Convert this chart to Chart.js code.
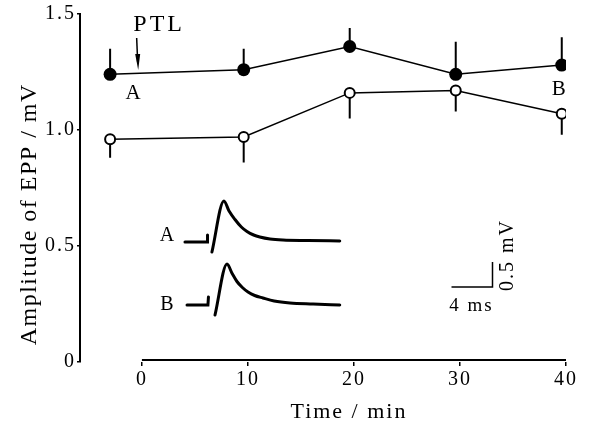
<!DOCTYPE html>
<html>
<head>
<meta charset="utf-8">
<script src="https://cdn.jsdelivr.net/npm/chart.js@4.4.1/dist/chart.umd.min.js"></script>
<style>
  body { margin: 0; background: #fff; }
  #wrap { width: 594px; height: 425px; }
</style>
</head>
<body>
<div id="wrap"><canvas id="chart"></canvas></div>
<script>
// time after PTL (min)
var times = [-3, 9.6, 19.6, 29.6, 39.6];
// filled circles
var ampFilled = [1.24, 1.26, 1.36, 1.24, 1.28];
var errFilled = [0.11, 0.09, 0.08, 0.14, 0.12];
// open circles
var ampOpen = [0.96, 0.97, 1.16, 1.17, 1.07];
var errOpen = [0.08, 0.11, 0.11, 0.09, 0.09];

var xTicks = [0, 10, 20, 30, 40];
var yTicks = [0, 0.5, 1.0, 1.5];
var yTickLabels = ["0", "0.5", "1.0", "1.5"];
var ptlTime = -0.4;

// inset EPP traces (ms, mV)
var artATime = [0, 2.15, 2.2];
var artAVolt = [0, 0, 0.14];
var eppATime = [2.63, 3.8, 4.3, 4.88, 5.5, 6.05, 6.7, 7.3, 8.3, 9.56, 12, 15.1];
var eppAVolt = [-0.2, 0.82, 0.62, 0.45, 0.3, 0.21, 0.14, 0.1, 0.06, 0.04, 0.03, 0.02];
var artBTime = [0.2, 2.24, 2.29];
var artBVolt = [0, 0, 0.16];
var eppBTime = [2.93, 4.1, 4.6, 5.07, 5.6, 6.15, 6.8, 7.6, 8.7, 10.24, 12.5, 15.1];
var eppBVolt = [-0.2, 0.82, 0.63, 0.47, 0.35, 0.26, 0.19, 0.14, 0.08, 0.04, 0.02, 0];
// scale bar 4 ms / 0.5 mV
var barTime = [26, 30, 30];
var barVolt = [-0.9, -0.9, -0.4];

var serif = '"Liberation Serif", "DejaVu Serif", serif';

function pts(xs, ys) {
    return xs.map(function (v, i) { return { x: v, y: ys[i] }; });
}

function trace(xs, ys, yId, monotone) {
    return {
        data: pts(xs, ys),
        xAxisID: "xIns",
        yAxisID: yId,
        borderColor: "#000",
        borderWidth: 3,
        pointRadius: 0,
        cubicInterpolationMode: monotone ? "monotone" : "default",
        borderCapStyle: "round"
    };
}

function spaced(ctx, text, x, y, size, spacing) {
    ctx.font = size + "px " + serif;
    ctx.letterSpacing = spacing + "px";
    ctx.fillText(text, x + spacing / 2, y);
}

var overlay = {
    id: "overlay",
    beforeDraw: function (chart) {
        chart.ctx.letterSpacing = "2px";
    },
    beforeDatasetsDraw: function (chart) {
        var ctx = chart.ctx, x = chart.scales.x, y = chart.scales.y;
        var area = chart.chartArea;
        ctx.save();
        ctx.strokeStyle = "#000";
        ctx.lineWidth = 2;
        // x axis line only spans 0..40
        ctx.beginPath();
        ctx.moveTo(x.getPixelForValue(xTicks[0]), area.bottom - 2);
        ctx.lineTo(x.getPixelForValue(xTicks[xTicks.length - 1]), area.bottom - 2);
        ctx.stroke();
        // error bars: filled up, open down
        times.forEach(function (t, i) {
            var px = x.getPixelForValue(t);
            ctx.beginPath();
            ctx.moveTo(px, y.getPixelForValue(ampFilled[i]));
            ctx.lineTo(px, y.getPixelForValue(ampFilled[i] + errFilled[i]));
            ctx.moveTo(px, y.getPixelForValue(ampOpen[i]));
            ctx.lineTo(px, y.getPixelForValue(ampOpen[i] - errOpen[i]));
            ctx.stroke();
        });
        ctx.restore();
    },
    afterDraw: function (chart) {
        var ctx = chart.ctx, x = chart.scales.x, y = chart.scales.y;
        var xi = chart.scales.xIns, ya = chart.scales.yA, yb = chart.scales.yB;
        var area = chart.chartArea;
        ctx.save();
        ctx.fillStyle = "#000";
        ctx.strokeStyle = "#000";
        ctx.textAlign = "center";
        ctx.textBaseline = "middle";

        // axis titles
        var x0 = x.getPixelForValue(xTicks[0]), x1 = x.getPixelForValue(xTicks[xTicks.length - 1]);
        spaced(ctx, "Time / min", (x0 + x1) / 2 - 6, area.bottom + 50, 22, 2);
        ctx.save();
        ctx.translate(area.left - 50, (area.top + area.bottom) / 2 + 27);
        ctx.rotate(-Math.PI / 2);
        spaced(ctx, "Amplitude of EPP / mV", 0, 0, 24, 1.5);
        ctx.restore();

        // PTL arrow
        var ax = x.getPixelForValue(ptlTime);
        spaced(ctx, "PTL", ax + 20, area.top + 11, 24, 3);
        ctx.lineWidth = 1.5;
        ctx.beginPath();
        ctx.moveTo(ax - 1, area.top + 24);
        ctx.lineTo(ax, area.top + 48);
        ctx.stroke();
        ctx.beginPath();
        ctx.moveTo(ax - 2.5, area.top + 40);
        ctx.lineTo(ax + 2.5, area.top + 40);
        ctx.lineTo(ax + 0.5, area.top + 56);
        ctx.closePath();
        ctx.fill();

        // A / B markers on the plot
        spaced(ctx, "A", x.getPixelForValue(times[0]) + 23, y.getPixelForValue(ampFilled[0]) + 19, 21, 0);
        var last = times.length - 1;
        spaced(ctx, "B", x.getPixelForValue(times[last]) - 3, y.getPixelForValue(ampFilled[last]) + 24, 21, 0);

        // inset labels
        spaced(ctx, "A", xi.getPixelForValue(artATime[0]) - 18, ya.getPixelForValue(0) - 6, 20, 0);
        spaced(ctx, "B", xi.getPixelForValue(artBTime[0]) - 20, yb.getPixelForValue(0), 20, 0);

        // scale bar labels
        var bx = xi.getPixelForValue(barTime[1]), by = ya.getPixelForValue(barVolt[1]);
        spaced(ctx, "4 ms", bx - 22, by + 19, 19, 2);
        ctx.translate(bx + 15, by - 31);
        ctx.rotate(-Math.PI / 2);
        spaced(ctx, "0.5 mV", 0, 0, 20, 2);
        ctx.restore();
    }
};

var ctx = document.getElementById("chart");

new Chart(ctx, {
    type: "line",
    data: {
        datasets: [
            {
                data: pts(times, ampFilled),
                borderColor: "#000",
                borderWidth: 1.5,
                pointRadius: 6.5,
                pointBackgroundColor: "#000",
                pointBorderColor: "#000",
                pointBorderWidth: 0
            },
            {
                data: pts(times, ampOpen),
                borderColor: "#000",
                borderWidth: 1.5,
                pointRadius: 5,
                pointBackgroundColor: "#fff",
                pointBorderColor: "#000",
                pointBorderWidth: 2
            },
            trace(artATime, artAVolt, "yA", false),
            trace(eppATime, eppAVolt, "yA", true),
            trace(artBTime, artBVolt, "yB", false),
            trace(eppBTime, eppBVolt, "yB", true),
            {
                data: pts(barTime, barVolt),
                xAxisID: "xIns",
                yAxisID: "yA",
                borderColor: "#000",
                borderWidth: 1.5,
                pointRadius: 0
            }
        ]
    },
    options: {
        responsive: true,
        maintainAspectRatio: false,
        animation: false,
        layout: { padding: { top: 14, right: 28, left: 0, bottom: 0 } },
        plugins: {
            legend: { display: false },
            tooltip: { enabled: false }
        },
        scales: {
            x: {
                type: "linear",
                min: -5.84,
                max: 40,
                afterBuildTicks: function (scale) {
                    scale.ticks = xTicks.map(function (v) { return { value: v }; });
                },
                afterFit: function (scale) { scale.height = 63; },
                border: { display: false },
                grid: { display: true, drawOnChartArea: false, color: "#000", lineWidth: 1.5, tickLength: 4 },
                ticks: {
                    color: "#000",
                    padding: 2,
                    maxRotation: 0,
                    font: { family: serif, size: 20 }
                }
            },
            y: {
                type: "linear",
                min: 0,
                max: 1.5,
                afterBuildTicks: function (scale) {
                    scale.ticks = yTicks.map(function (v) { return { value: v }; });
                },
                afterFit: function (scale) { scale.width = 80; },
                border: { display: true, color: "#000", width: 2 },
                grid: { display: true, drawOnChartArea: false, color: "#000", lineWidth: 1.5, tickLength: 3 },
                ticks: {
                    color: "#000",
                    padding: 1,
                    font: { family: serif, size: 20 },
                    callback: function (v, i) { return yTickLabels[i]; }
                }
            },
            xIns: { type: "linear", display: false, min: -10.24, max: 37.17 },
            yA: { type: "linear", display: false, min: -2.4, max: 4.56 },
            yB: { type: "linear", display: false, min: -1.14, max: 5.82 }
        }
    },
    plugins: [overlay]
});
</script>
</body>
</html>
